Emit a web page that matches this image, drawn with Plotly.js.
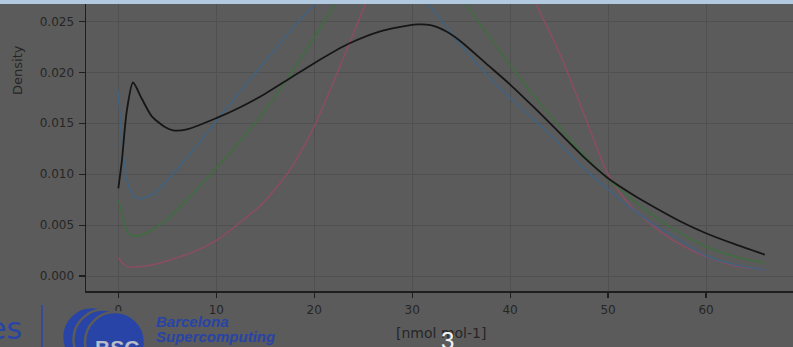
<!DOCTYPE html>
<html>
<head>
<meta charset="utf-8">
<script src="https://cdn.plot.ly/plotly-3.0.1.min.js"></script>
<style>html,body{margin:0;padding:0;background:#5b5b5b;overflow:hidden}#chart{width:793px;height:347px}</style>
</head>
<body>
<div id="chart"></div>
<script>
// ---- data ----
const blackX = [0, 0.35, 0.85, 1.5, 2.4, 3.4, 4.8, 5.6, 7, 10, 12.5, 15, 17.5, 20, 23.5, 27, 30.5, 32, 33.5, 35, 37.5, 40, 42.5, 45, 47.5, 50, 52.5, 55, 57.5, 60, 63, 66];
const blackY = [0.0086, 0.0112, 0.0161, 0.0190, 0.0174, 0.0157, 0.0146, 0.0143, 0.0144, 0.0155, 0.0166, 0.0179, 0.0194, 0.0209, 0.0228, 0.0241, 0.0247, 0.0246, 0.0240, 0.0230, 0.0209, 0.0188, 0.0165, 0.0141, 0.0117, 0.0096, 0.0080, 0.0066, 0.0053, 0.0042, 0.0031, 0.0021];

const blueX = [0, 0.35, 0.85, 1.5, 2.2, 3.5, 5, 7.5, 10, 12.5, 15, 17.5, 20, 22.5, 25, 27.5, 30, 32, 34, 36, 38, 40, 42.5, 45, 47.5, 50, 52, 54.5, 57, 60, 63, 66];
const blueY = [0.0182, 0.0134, 0.0095, 0.0079, 0.0076, 0.0080, 0.0094, 0.0122, 0.0152, 0.0182, 0.0211, 0.0240, 0.0266, 0.0285, 0.0294, 0.0293, 0.0281, 0.0263, 0.0238, 0.0215, 0.0194, 0.0175, 0.0153, 0.0130, 0.0106, 0.0085, 0.0069, 0.0052, 0.0037, 0.0020, 0.0011, 0.0006];

const greenX = [0, 0.5, 1, 1.7, 3, 5, 7.5, 10, 12.5, 15, 17.5, 20, 22.5, 25, 28, 30, 32, 35, 37.5, 40, 42.5, 45, 47.5, 50, 52, 54.5, 57, 60, 63, 66];
const greenY = [0.0075, 0.0055, 0.0042, 0.0039, 0.0043, 0.0056, 0.0080, 0.0106, 0.0133, 0.0163, 0.0197, 0.0234, 0.0272, 0.0298, 0.0310, 0.0308, 0.0298, 0.0272, 0.0240, 0.0207, 0.0176, 0.0147, 0.0119, 0.0095, 0.0079, 0.0060, 0.0044, 0.0029, 0.0019, 0.0013];

const redX = [0, 0.5, 1, 2, 3.5, 5, 7.5, 10, 12.5, 15, 17.5, 20, 22.5, 25, 27.5, 30, 32.5, 35, 37.5, 40, 42.5, 45, 47.5, 50, 52, 54.5, 57, 60, 63, 66];
const redY = [0.0018, 0.0012, 0.0009, 0.0009, 0.0011, 0.0015, 0.0023, 0.0035, 0.0053, 0.0074, 0.0104, 0.0147, 0.0203, 0.0262, 0.0325, 0.0395, 0.0443, 0.0455, 0.0420, 0.0345, 0.0271, 0.0220, 0.0160, 0.0100, 0.0072, 0.0050, 0.0033, 0.0019, 0.0010, 0.0006];

const xTicks = [0, 10, 20, 30, 40, 50, 60];
const yTicks = [0.000, 0.005, 0.010, 0.015, 0.020, 0.025];
const yTickText = ["0.000", "0.005", "0.010", "0.015", "0.020", "0.025"];

// ---- geometry helpers ----
const W = 793, H = 347, L = 86, B = 291, R = 793, T = 0;
const px = x => (x - L) / (R - L);
const py = y => (B - y) / (B - T);

const line = (x, y, color, w) => ({x: x, y: y, type: 'scatter', mode: 'lines',
  line: {color: color, width: w, shape: 'spline', smoothing: 0.7}, hoverinfo: 'skip', showlegend: false});

const traces = [
  line(redX, redY, '#8c4c63', 1.5),
  line(greenX, greenY, '#3e6e3f', 1.5),
  line(blueX, blueY, '#41627f', 1.6),
  line(blackX, blackY, '#161616', 1.8)
];

const bg = '#5b5b5b';
const logo = '#2844a6';
const circ = (cx, cy, r) => ({type: 'circle', xref: 'paper', yref: 'paper',
  x0: px(cx - r), x1: px(cx + r), y0: py(cy + r), y1: py(cy - r),
  fillcolor: logo, line: {color: bg, width: 2.5}, layer: 'above'});

const layout = {
  width: W, height: H,
  margin: {l: L, r: W - R, t: T, b: H - B, pad: 0},
  paper_bgcolor: bg, plot_bgcolor: bg,
  font: {family: 'DejaVu Sans, sans-serif', color: '#262626', size: 12},
  xaxis: {range: [-3.30, 68.88], tickvals: xTicks, ticks: 'outside', ticklen: 5, tickwidth: 1.2,
    tickcolor: '#1e1e1e', showline: true, linecolor: '#1e1e1e', linewidth: 1.5,
    showgrid: true, gridcolor: '#505050', gridwidth: 1, zeroline: false,
    tickfont: {size: 12, color: '#262626'}, ticklabelstandoff: 2, fixedrange: true},
  yaxis: {range: [-0.00147, 0.0271], tickvals: yTicks, ticktext: yTickText, ticks: 'outside', ticklen: 6, tickwidth: 1.2,
    tickcolor: '#1e1e1e', showline: true, linecolor: '#1e1e1e', linewidth: 1.5,
    showgrid: true, gridcolor: '#505050', gridwidth: 1, zeroline: false,
    tickfont: {size: 12, color: '#262626'}, ticklabelstandoff: 2, fixedrange: true},
  shapes: [
    {type: 'rect', xref: 'paper', yref: 'paper', x0: px(0), x1: px(W), y0: py(4), y1: py(0),
      fillcolor: '#b2cae0', line: {width: 0}, layer: 'above'},
    {type: 'line', xref: 'paper', yref: 'paper', x0: px(42), x1: px(42), y0: py(305), y1: py(347),
      line: {color: logo, width: 1.5}, layer: 'above'},
    circ(92, 337, 30),
    circ(103.5, 339.5, 30),
    circ(115, 342, 30)
  ],
  annotations: [
    {text: 'Density', xref: 'paper', yref: 'paper', x: px(17), y: py(70), textangle: -90,
      showarrow: false, xanchor: 'center', yanchor: 'middle', font: {size: 13, color: '#262626'}},
    {text: '[nmol mol-1]', xref: 'paper', yref: 'paper', x: px(441), y: py(333),
      showarrow: false, xanchor: 'center', yanchor: 'middle', font: {size: 14, color: '#262626'}},
    {text: 'es', xref: 'paper', yref: 'paper', x: px(24), y: py(328),
      showarrow: false, xanchor: 'right', yanchor: 'middle', font: {size: 30, color: logo}},
    {text: '<b><i>Barcelona</i></b>', xref: 'paper', yref: 'paper', x: px(154), y: py(321),
      showarrow: false, xanchor: 'left', yanchor: 'middle', font: {family: 'Liberation Sans, Arial, sans-serif', size: 15, color: logo}},
    {text: '<b><i>Supercomputing</i></b>', xref: 'paper', yref: 'paper', x: px(154), y: py(337),
      showarrow: false, xanchor: 'left', yanchor: 'middle', font: {family: 'Liberation Sans, Arial, sans-serif', size: 15, color: logo}},
    {text: '<b>BSC</b>', xref: 'paper', yref: 'paper', x: px(117), y: py(347),
      showarrow: false, xanchor: 'center', yanchor: 'middle', font: {family: 'Liberation Sans, Arial, sans-serif', size: 21, color: '#b9bccb'}},
    {text: '3', xref: 'paper', yref: 'paper', x: px(447), y: py(340),
      showarrow: false, xanchor: 'center', yanchor: 'middle', font: {family: 'Liberation Sans, Arial, sans-serif', size: 24, color: '#f4f4f4'}}
  ]
};

Plotly.newPlot('chart', traces, layout, {displayModeBar: false, staticPlot: true});
</script>
</body>
</html>
